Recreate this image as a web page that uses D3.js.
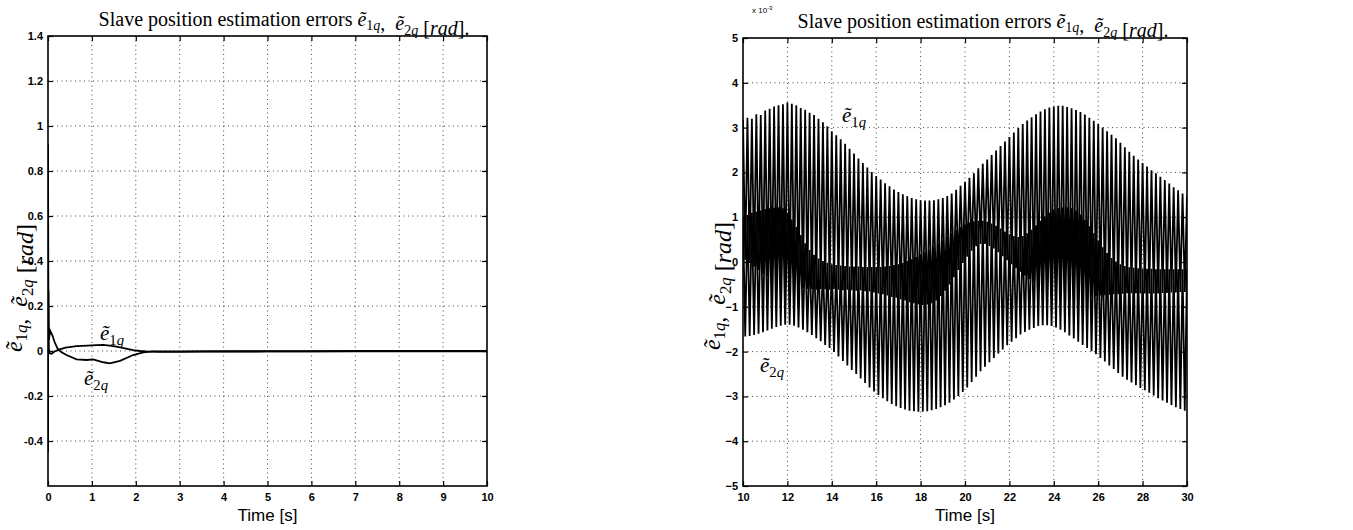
<!DOCTYPE html>
<html><head><meta charset="utf-8">
<script src="https://cdn.jsdelivr.net/npm/d3@7"></script>
<style>body{margin:0;background:#fff}svg{display:block}</style>
</head><body>
<svg id="chart" width="1353" height="530"></svg>
<script>
// ---------------- DATA ----------------
// Left panel (rad), t in seconds
const leftXTicks = [0,1,2,3,4,5,6,7,8,9,10];
const leftYTicks = [-0.4,-0.2,0,0.2,0.4,0.6,0.8,1,1.2,1.4];
const e1qLeftTime = [0,0.005,0.01,0.02,0.04,0.08,0.15,0.25,0.4,0.65,0.9,1.1,1.26,1.4,1.56,1.75,1.94,2.1,2.24,2.5,3,3.5,4,5,6,7,8,9,10];
const e1qLeftVal  = [0.92,0.5,0.12,0.01,-0.01,-0.012,-0.002,0.006,0.015,0.022,0.024,0.026,0.027,0.024,0.019,0.012,0.004,0.0,-0.002,-0.004,-0.004,-0.003,-0.003,-0.002,-0.002,-0.002,-0.001,-0.001,-0.001];
const e2qLeftTime = [0,0.004,0.01,0.02,0.05,0.1,0.15,0.22,0.3,0.42,0.65,0.88,1.03,1.26,1.41,1.64,1.94,2.17,2.4,3,4,5,6,7,8,9,10];
const e2qLeftVal  = [-0.45,0.1,0.27,0.05,0.09,0.07,0.04,0.01,-0.005,-0.018,-0.037,-0.04,-0.037,-0.05,-0.055,-0.044,-0.018,-0.006,-0.002,-0.002,-0.001,-0.001,-0.001,0,0,0,0];

// Right panel (x 10^-3 rad), one peak / trough per oscillation cycle (cycle = 0.2 s, from t = 10 s)
const rightXTicks = [10,12,14,16,18,20,22,24,26,28,30];
const rightYTicks = [-5,-4,-3,-2,-1,0,1,2,3,4,5];
const cycleStart = 10, cyclePeriod = 0.2;
const e1qPeaks = [
 3.18,3.22,3.20,3.30,3.28,3.38,3.42,3.47,3.50,3.52,
 3.56,3.53,3.50,3.44,3.40,3.33,3.28,3.20,3.12,3.03,
 2.92,2.83,2.74,2.64,2.53,2.42,2.31,2.21,2.11,2.01,
 1.92,1.84,1.76,1.69,1.62,1.56,1.51,1.47,1.43,1.40,
 1.38,1.37,1.37,1.38,1.40,1.43,1.47,1.53,1.61,1.70,
 1.79,1.88,1.98,2.09,2.19,2.29,2.39,2.49,2.59,2.69,
 2.79,2.89,2.99,3.08,3.16,3.23,3.30,3.36,3.41,3.45,
 3.47,3.49,3.49,3.46,3.43,3.39,3.35,3.29,3.22,3.15,
 3.08,3.00,2.92,2.84,2.76,2.66,2.56,2.46,2.37,2.29,
 2.21,2.13,2.05,1.98,1.90,1.83,1.75,1.67,1.60,1.53,
 1.46];
const e1qTroughs = [
 0.05,-0.02,-0.10,-0.18,-0.26,-0.32,-0.38,-0.42,-0.46,-0.50,
 -0.52,-0.55,-0.57,-0.58,-0.60,-0.60,-0.62,-0.60,-0.61,-0.62,
 -0.60,-0.62,-0.63,-0.62,-0.63,-0.64,-0.63,-0.65,-0.66,-0.68,
 -0.70,-0.72,-0.75,-0.78,-0.80,-0.83,-0.86,-0.90,-0.92,-0.95,
 -0.96,-0.95,-0.92,-0.86,-0.76,-0.64,-0.50,-0.34,-0.18,-0.02,
 0.12,0.25,0.35,0.40,0.40,0.36,0.30,0.22,0.13,0.04,
 -0.05,-0.14,-0.22,-0.30,-0.38,-0.45,-0.52,-0.58,-0.63,-0.68,
 -0.72,-0.75,-0.78,-0.80,-0.80,-0.80,-0.79,-0.78,-0.77,-0.76,
 -0.75,-0.74,-0.73,-0.72,-0.72,-0.71,-0.70,-0.70,-0.70,-0.70,
 -0.70,-0.70,-0.70,-0.70,-0.69,-0.69,-0.68,-0.68,-0.67,-0.67];
const e2qPeaks = [
 1.00,1.05,1.10,1.12,1.15,1.18,1.20,1.21,1.22,1.20,
 1.10,0.95,0.78,0.60,0.42,0.27,0.16,0.08,0.02,-0.02,
 -0.05,-0.07,-0.08,-0.09,-0.10,-0.10,-0.10,-0.11,-0.11,-0.11,
 -0.11,-0.11,-0.10,-0.09,-0.07,-0.05,-0.02,0.02,0.06,0.11,
 0.16,0.21,0.27,0.33,0.40,0.48,0.56,0.64,0.71,0.78,
 0.84,0.88,0.91,0.92,0.92,0.90,0.86,0.81,0.75,0.68,
 0.62,0.58,0.56,0.58,0.64,0.72,0.82,0.92,1.02,1.10,
 1.16,1.20,1.22,1.22,1.20,1.15,1.06,0.94,0.80,0.64,
 0.48,0.33,0.20,0.09,0.01,-0.05,-0.09,-0.12,-0.13,-0.14,
 -0.15,-0.15,-0.15,-0.16,-0.16,-0.16,-0.16,-0.16,-0.16,-0.16,
 -0.16];
const e2qTroughs = [
 -1.66,-1.65,-1.63,-1.60,-1.57,-1.53,-1.49,-1.45,-1.42,-1.40,
 -1.40,-1.42,-1.46,-1.51,-1.57,-1.63,-1.70,-1.77,-1.85,-1.92,
 -2.01,-2.11,-2.21,-2.31,-2.41,-2.50,-2.60,-2.70,-2.80,-2.89,
 -2.97,-3.04,-3.11,-3.17,-3.22,-3.26,-3.29,-3.32,-3.33,-3.34,
 -3.34,-3.33,-3.31,-3.28,-3.24,-3.20,-3.14,-3.07,-2.99,-2.90,
 -2.80,-2.68,-2.56,-2.44,-2.34,-2.24,-2.14,-2.04,-1.95,-1.86,
 -1.78,-1.70,-1.62,-1.56,-1.51,-1.47,-1.43,-1.41,-1.41,-1.43,
 -1.46,-1.51,-1.57,-1.64,-1.71,-1.78,-1.85,-1.92,-1.99,-2.06,
 -2.14,-2.22,-2.31,-2.39,-2.48,-2.56,-2.63,-2.69,-2.75,-2.81,
 -2.86,-2.92,-2.98,-3.04,-3.09,-3.14,-3.19,-3.24,-3.28,-3.32];

// ---------------- DRAWING ----------------
const svg = d3.select("#chart");
const TICKFONT = "'Liberation Sans Narrow','Liberation Sans',Arial,sans-serif";
const SERIF = "'Liberation Serif','DejaVu Serif','Noto Serif',serif";
const NB = "\u00A0";

function fmtLeft(v){ return String(Math.round(v*10)/10); }

function mathE(t, sub1, size){
  t.append("tspan").attr("font-style","italic").text("ẽ");
  t.append("tspan").attr("font-size", size*0.7).attr("dy", size*0.22).text(sub1);
  t.append("tspan").attr("font-size", size*0.7).attr("font-style","italic").text("q");
  t.append("tspan").attr("dy", -size*0.22).text("");
}

function titleText(cx, y){
  const size = 20;
  const t = svg.append("text").attr("x", cx).attr("y", y).attr("text-anchor","middle")
    .style("font-family", SERIF).attr("font-size", size).attr("fill","#000");
  t.append("tspan").text("Slave position estimation errors" + NB);
  mathE(t, "1", size);
  t.append("tspan").text("," + NB + NB);
  mathE(t, "2", size);
  t.append("tspan").text(NB + "[");
  t.append("tspan").attr("font-style","italic").text("rad");
  t.append("tspan").text("].");
}

function yLabel(x, y){
  const size = 24;
  const t = svg.append("text").attr("transform", `translate(${x},${y}) rotate(-90)`)
    .attr("text-anchor","middle").style("font-family", SERIF).attr("font-size", size).attr("fill","#000");
  mathE(t, "1", size);
  t.append("tspan").text("," + NB + NB);
  mathE(t, "2", size);
  t.append("tspan").text(NB + "[");
  t.append("tspan").attr("font-style","italic").text("rad");
  t.append("tspan").text("]");
}

function seriesLabel(x, y, sub){
  const size = 21;
  const t = svg.append("text").attr("x", x).attr("y", y).style("font-family", SERIF)
    .attr("font-size", size).attr("fill","#000");
  mathE(t, sub, size);
}

function panel(cfg){
  const x = d3.scaleLinear().domain(cfg.xDomain).range([cfg.left, cfg.right]);
  const y = d3.scaleLinear().domain(cfg.yDomain).range([cfg.bottom, cfg.top]);
  const g = svg.append("g");
  // grid
  const gg = g.append("g").attr("stroke","#444").attr("stroke-width",1).attr("stroke-dasharray","1,3.5");
  cfg.xTicks.filter(v => v > cfg.xDomain[0] && v < cfg.xDomain[1]).forEach(v => {
    gg.append("line").attr("x1", x(v)).attr("x2", x(v)).attr("y1", cfg.top).attr("y2", cfg.bottom);
  });
  cfg.yTicks.filter(v => v > cfg.yDomain[0] && v < cfg.yDomain[1]).forEach(v => {
    gg.append("line").attr("y1", y(v)).attr("y2", y(v)).attr("x1", cfg.left).attr("x2", cfg.right);
  });
  // data
  const clipId = "clip" + cfg.id;
  g.append("clipPath").attr("id", clipId).append("rect")
    .attr("x", cfg.left).attr("y", cfg.top).attr("width", cfg.right-cfg.left).attr("height", cfg.bottom-cfg.top);
  const line = d3.line().x(d => x(d[0])).y(d => y(d[1]));
  const dg = g.append("g").attr("clip-path", `url(#${clipId})`);
  cfg.series.forEach(s => {
    dg.append("path").datum(s.data).attr("d", line).attr("fill","none")
      .attr("stroke","#000").attr("stroke-width", s.width).attr("stroke-linejoin","miter");
  });
  // axes (ticks inward)
  const axB = d3.axisBottom(x).tickValues(cfg.xTicks).tickSize(-5).tickPadding(7).tickFormat(cfg.xFmt);
  const axL = d3.axisLeft(y).tickValues(cfg.yLabelTicks).tickSize(-5).tickPadding(5).tickFormat(cfg.yFmt);
  const axT = d3.axisTop(x).tickValues(cfg.xTicks).tickSize(-5).tickFormat("");
  const axR = d3.axisRight(y).tickValues(cfg.yLabelTicks).tickSize(-5).tickFormat("");
  const styleAx = sel => {
    sel.select(".domain").remove();
    sel.selectAll(".tick line").attr("stroke","#000").attr("stroke-width",1.2);
    sel.selectAll(".tick text").attr("font-family", TICKFONT).attr("font-weight","bold")
      .attr("font-size", 11).attr("fill","#000");
  };
  g.append("g").attr("transform", `translate(0,${cfg.bottom})`).call(axB).call(styleAx);
  g.append("g").attr("transform", `translate(${cfg.left},0)`).call(axL).call(styleAx);
  g.append("g").attr("transform", `translate(0,${cfg.top})`).call(axT).call(styleAx);
  g.append("g").attr("transform", `translate(${cfg.right},0)`).call(axR).call(styleAx);
  // box
  g.append("rect").attr("x", cfg.left).attr("y", cfg.top).attr("width", cfg.right-cfg.left)
    .attr("height", cfg.bottom-cfg.top).attr("fill","none").attr("stroke","#000").attr("stroke-width",1.6);
  // x label
  svg.append("text").attr("x", (cfg.left+cfg.right)/2).attr("y", 521).attr("text-anchor","middle")
    .attr("font-family", "'Liberation Sans Narrow','Liberation Sans',Arial,sans-serif")
    .attr("font-size", 17).attr("fill","#000").text("Time [s]");
  return {x, y};
}

// Left panel
panel({
  id: "L", left: 48, right: 487, top: 36, bottom: 486,
  xDomain: [0,10], yDomain: [-0.6,1.4],
  xTicks: leftXTicks, yTicks: leftYTicks, yLabelTicks: leftYTicks,
  xFmt: d3.format("d"), yFmt: fmtLeft,
  series: [
    {data: e1qLeftTime.map((t,i)=>[t, e1qLeftVal[i]]), width: 1.8},
    {data: e2qLeftTime.map((t,i)=>[t, e2qLeftVal[i]]), width: 1.8}
  ]
});

// Right panel series: peaks at the cycle start, troughs half a cycle later
const e1qRight = [], e2qRight = [];
e1qPeaks.forEach((v,k) => {
  e1qRight.push([cycleStart + cyclePeriod*k, v]);
  if (k < e1qTroughs.length) e1qRight.push([cycleStart + cyclePeriod*k + cyclePeriod/2, e1qTroughs[k]]);
});
e2qPeaks.forEach((v,k) => {
  e2qRight.push([cycleStart + cyclePeriod*k, v]);
  if (k < e2qTroughs.length) e2qRight.push([cycleStart + cyclePeriod*k + cyclePeriod/2, e2qTroughs[k]]);
});

panel({
  id: "R", left: 743, right: 1187, top: 38, bottom: 486,
  xDomain: [10,30], yDomain: [-5,5],
  xTicks: rightXTicks, yTicks: rightYTicks, yLabelTicks: rightYTicks,
  xFmt: d3.format("d"), yFmt: d3.format("d"),
  series: [
    {data: e1qRight, width: 1.8},
    {data: e2qRight, width: 1.8}
  ]
});

// titles and labels
titleText(284, 26);
titleText(983, 28);
yLabel(22, 288);
yLabel(720, 286);
seriesLabel(100, 340, "1");
seriesLabel(84, 385, "2");
seriesLabel(842, 122, "1");
seriesLabel(760, 372, "2");

// exponent label
const ex = svg.append("text").attr("x", 752).attr("y", 13).attr("font-family", TICKFONT)
  .attr("font-size", 8).attr("fill","#000");
ex.append("tspan").text("x 10");
ex.append("tspan").attr("font-size", 6).attr("dy", -3).text("-3");
</script>
</body></html>
